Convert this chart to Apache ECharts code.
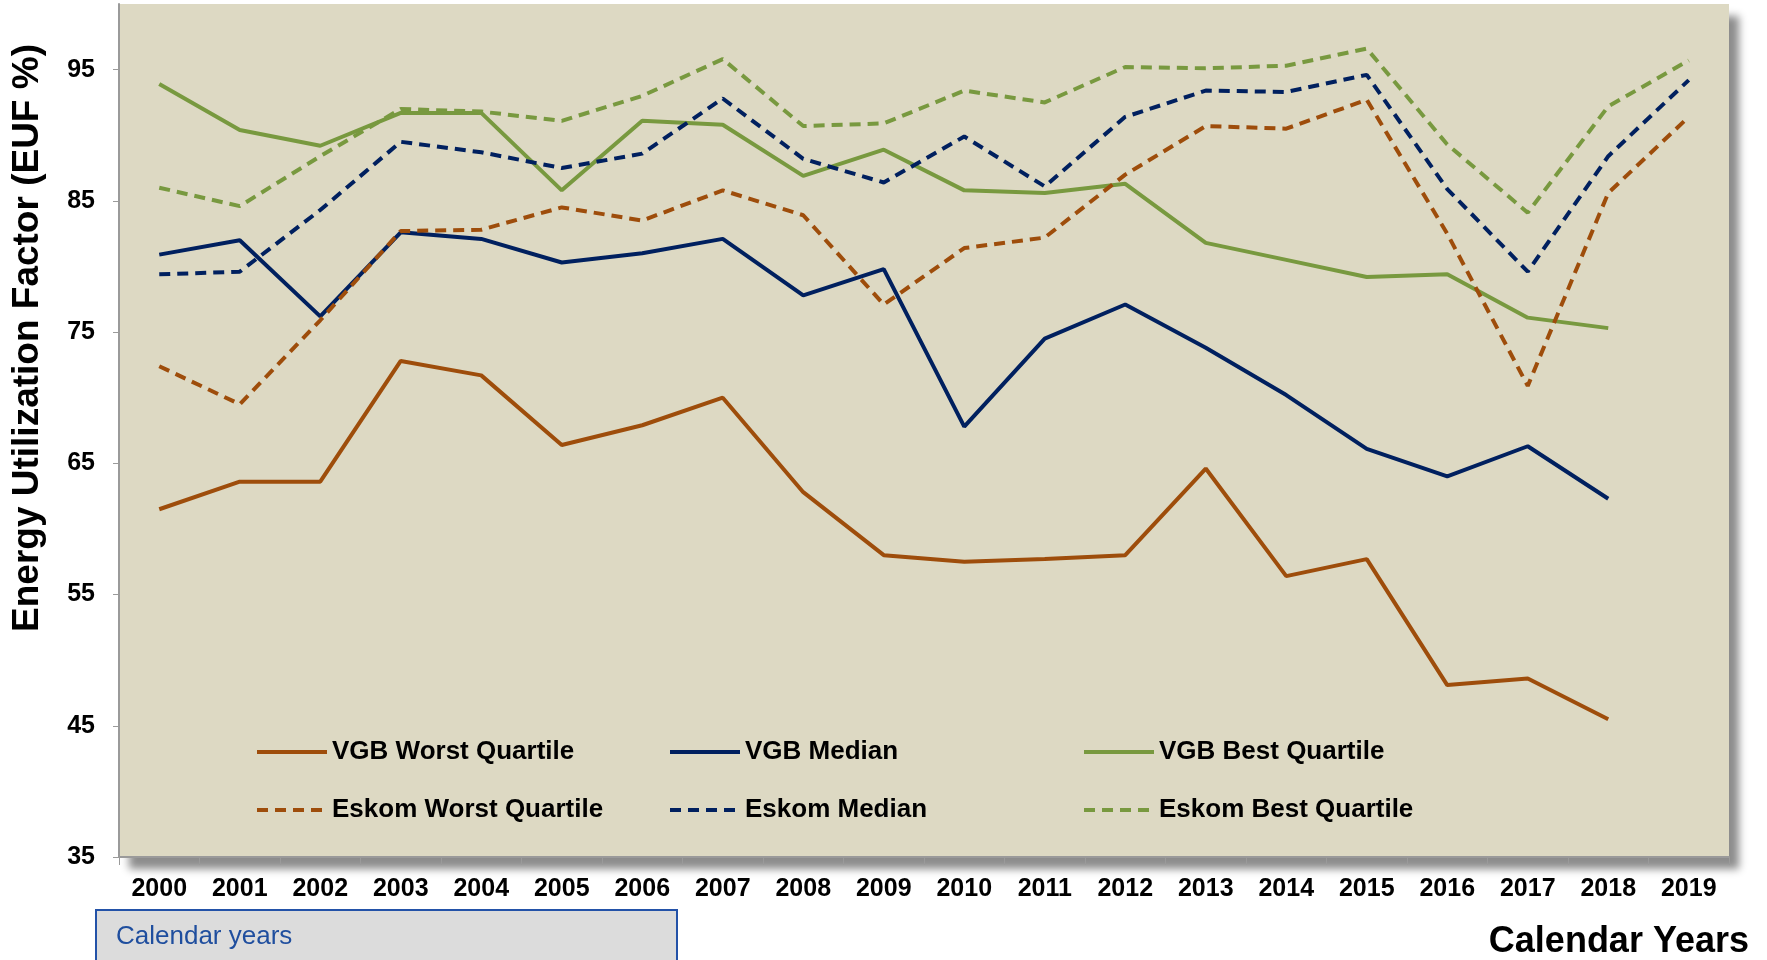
<!DOCTYPE html>
<html>
<head>
<meta charset="utf-8">
<script src="https://cdn.jsdelivr.net/npm/echarts@6/dist/echarts.min.js"></script>
<style>
  html, body { margin: 0; padding: 0; background: #fff; }
  #chart { width: 1767px; height: 960px; }
</style>
</head>
<body>
<div id="chart"></div>
<script>
const years = ['2000', '2001', '2002', '2003', '2004', '2005', '2006', '2007', '2008', '2009',
  '2010', '2011', '2012', '2013', '2014', '2015', '2016', '2017', '2018', '2019']

// VGB benchmark (no 2019 value)
const vgbWorst = [61.5, 63.6, 63.6, 72.8, 71.7, 66.4, 67.9, 70.0, 62.8, 58.0,
  57.5, 57.7, 58.0, 64.6, 56.4, 57.7, 48.1, 48.6, 45.5, null]
const vgbMedian = [80.9, 82.0, 76.2, 82.6, 82.1, 80.3, 81.0, 82.1, 77.8, 79.8,
  67.8, 74.5, 77.1, 73.8, 70.2, 66.1, 64.0, 66.3, 62.3, null]
const vgbBest = [93.9, 90.4, 89.2, 91.7, 91.7, 85.8, 91.1, 90.8, 86.9, 88.9,
  85.8, 85.6, 86.3, 81.8, 80.5, 79.2, 79.4, 76.1, 75.3, null]

// Eskom
const eskomWorst = [72.4, 69.5, 75.9, 82.7, 82.8, 84.5, 83.5, 85.8, 83.9, 77.1,
  81.4, 82.2, 87.0, 90.7, 90.5, 92.7, 82.5, 70.9, 85.6, 91.4]
const eskomMedian = [79.4, 79.6, 84.3, 89.5, 88.7, 87.5, 88.6, 92.8, 88.2, 86.4,
  89.9, 86.1, 91.4, 93.4, 93.3, 94.6, 85.9, 79.6, 88.4, 94.2]
const eskomBest = [86.0, 84.6, 88.4, 92.0, 91.8, 91.1, 93.0, 95.8, 90.7, 90.9,
  93.4, 92.5, 95.2, 95.1, 95.3, 96.6, 89.3, 84.1, 92.2, 95.7]

const BROWN = '#9E4D0B'
const NAVY = '#00205F'
const GREEN = '#78993F'
const DASH = [11, 7]

const chart = echarts.init(document.getElementById('chart'))

function makeSeries(name, data, color, dashed) {
  return {
    name: name,
    type: 'line',
    data: data,
    symbol: 'none',
    smooth: false,
    connectNulls: false,
    lineStyle: {
      width: 4,
      color: color,
      type: dashed ? DASH : 'solid'
    },
    itemStyle: { color: color }
  }
}

// one legend per column, two rows each
function makeLegend(left, names) {
  return {
    orient: 'vertical',
    left: left,
    top: 739,
    itemWidth: 70,
    itemHeight: 20,
    itemGap: 32,
    padding: 0,
    selectedMode: false,
    itemStyle: { opacity: 0 },
    lineStyle: { width: 4 },
    textStyle: {
      fontFamily: 'Liberation Sans, Arial, sans-serif',
      fontWeight: 'bold',
      fontSize: 26,
      lineHeight: 26,
      color: '#000'
    },
    data: names
  }
}

const labelFont = {
  fontFamily: 'Liberation Sans, Arial, sans-serif',
  fontWeight: 'bold',
  fontSize: 25,
  color: '#000'
}

const option = {
  animation: false,
  grid: {
    left: 119,
    right: 38,
    top: 4,
    bottom: 103,
    show: true,
    backgroundColor: '#DDD9C3',
    borderWidth: 0,
    shadowColor: 'rgba(0,0,0,0.45)',
    shadowBlur: 8,
    shadowOffsetX: 10,
    shadowOffsetY: 12
  },
  legend: [
    makeLegend(255, ['VGB Worst Quartile', 'Eskom Worst Quartile']),
    makeLegend(668, ['VGB Median', 'Eskom Median']),
    makeLegend(1082, ['VGB Best Quartile', 'Eskom Best Quartile'])
  ],
  xAxis: {
    type: 'category',
    data: years,
    boundaryGap: true,
    axisLine: { show: true, lineStyle: { color: '#9A9A9A', width: 2 } },
    axisTick: { show: true, length: 8, lineStyle: { color: '#9A9A9A', width: 1 } },
    axisLabel: Object.assign({ margin: 20 }, labelFont),
    splitLine: { show: false }
  },
  yAxis: {
    type: 'value',
    min: 35,
    max: 100,
    interval: 10,
    axisLine: { show: true, lineStyle: { color: '#9A9A9A', width: 2 } },
    axisTick: { show: true, length: 6, lineStyle: { color: '#9A9A9A', width: 1 } },
    axisLabel: Object.assign({
      margin: 24,
      showMaxLabel: false,
      formatter: function (v) {
        return (v - 35) % 10 === 0 ? String(v) : ''
      }
    }, labelFont),
    splitLine: { show: false }
  },
  graphic: [
    {
      type: 'text',
      x: 28,
      y: 338,
      rotation: Math.PI / 2,
      style: {
        text: 'Energy Utilization Factor (EUF %)',
        font: 'bold 37px "Liberation Sans", Arial, sans-serif',
        fill: '#000',
        textAlign: 'center',
        textVerticalAlign: 'middle'
      }
    },
    {
      type: 'text',
      x: 1749,
      y: 942,
      style: {
        text: 'Calendar Years',
        font: 'bold 36px "Liberation Sans", Arial, sans-serif',
        fill: '#000',
        textAlign: 'right',
        textVerticalAlign: 'middle'
      }
    },
    {
      type: 'rect',
      shape: { x: 96, y: 910, width: 581, height: 60 },
      style: { fill: '#DCDCDC', stroke: '#2352A8', lineWidth: 2 }
    },
    {
      type: 'text',
      x: 116,
      y: 937,
      style: {
        text: 'Calendar years',
        font: '26px "Liberation Sans", Arial, sans-serif',
        fill: '#1F4E9E',
        textAlign: 'left',
        textVerticalAlign: 'middle'
      }
    }
  ],
  series: [
    makeSeries('VGB Worst Quartile', vgbWorst, BROWN, false),
    makeSeries('VGB Median', vgbMedian, NAVY, false),
    makeSeries('VGB Best Quartile', vgbBest, GREEN, false),
    makeSeries('Eskom Worst Quartile', eskomWorst, BROWN, true),
    makeSeries('Eskom Median', eskomMedian, NAVY, true),
    makeSeries('Eskom Best Quartile', eskomBest, GREEN, true)
  ]
}

chart.setOption(option)
</script>
</body>
</html>
